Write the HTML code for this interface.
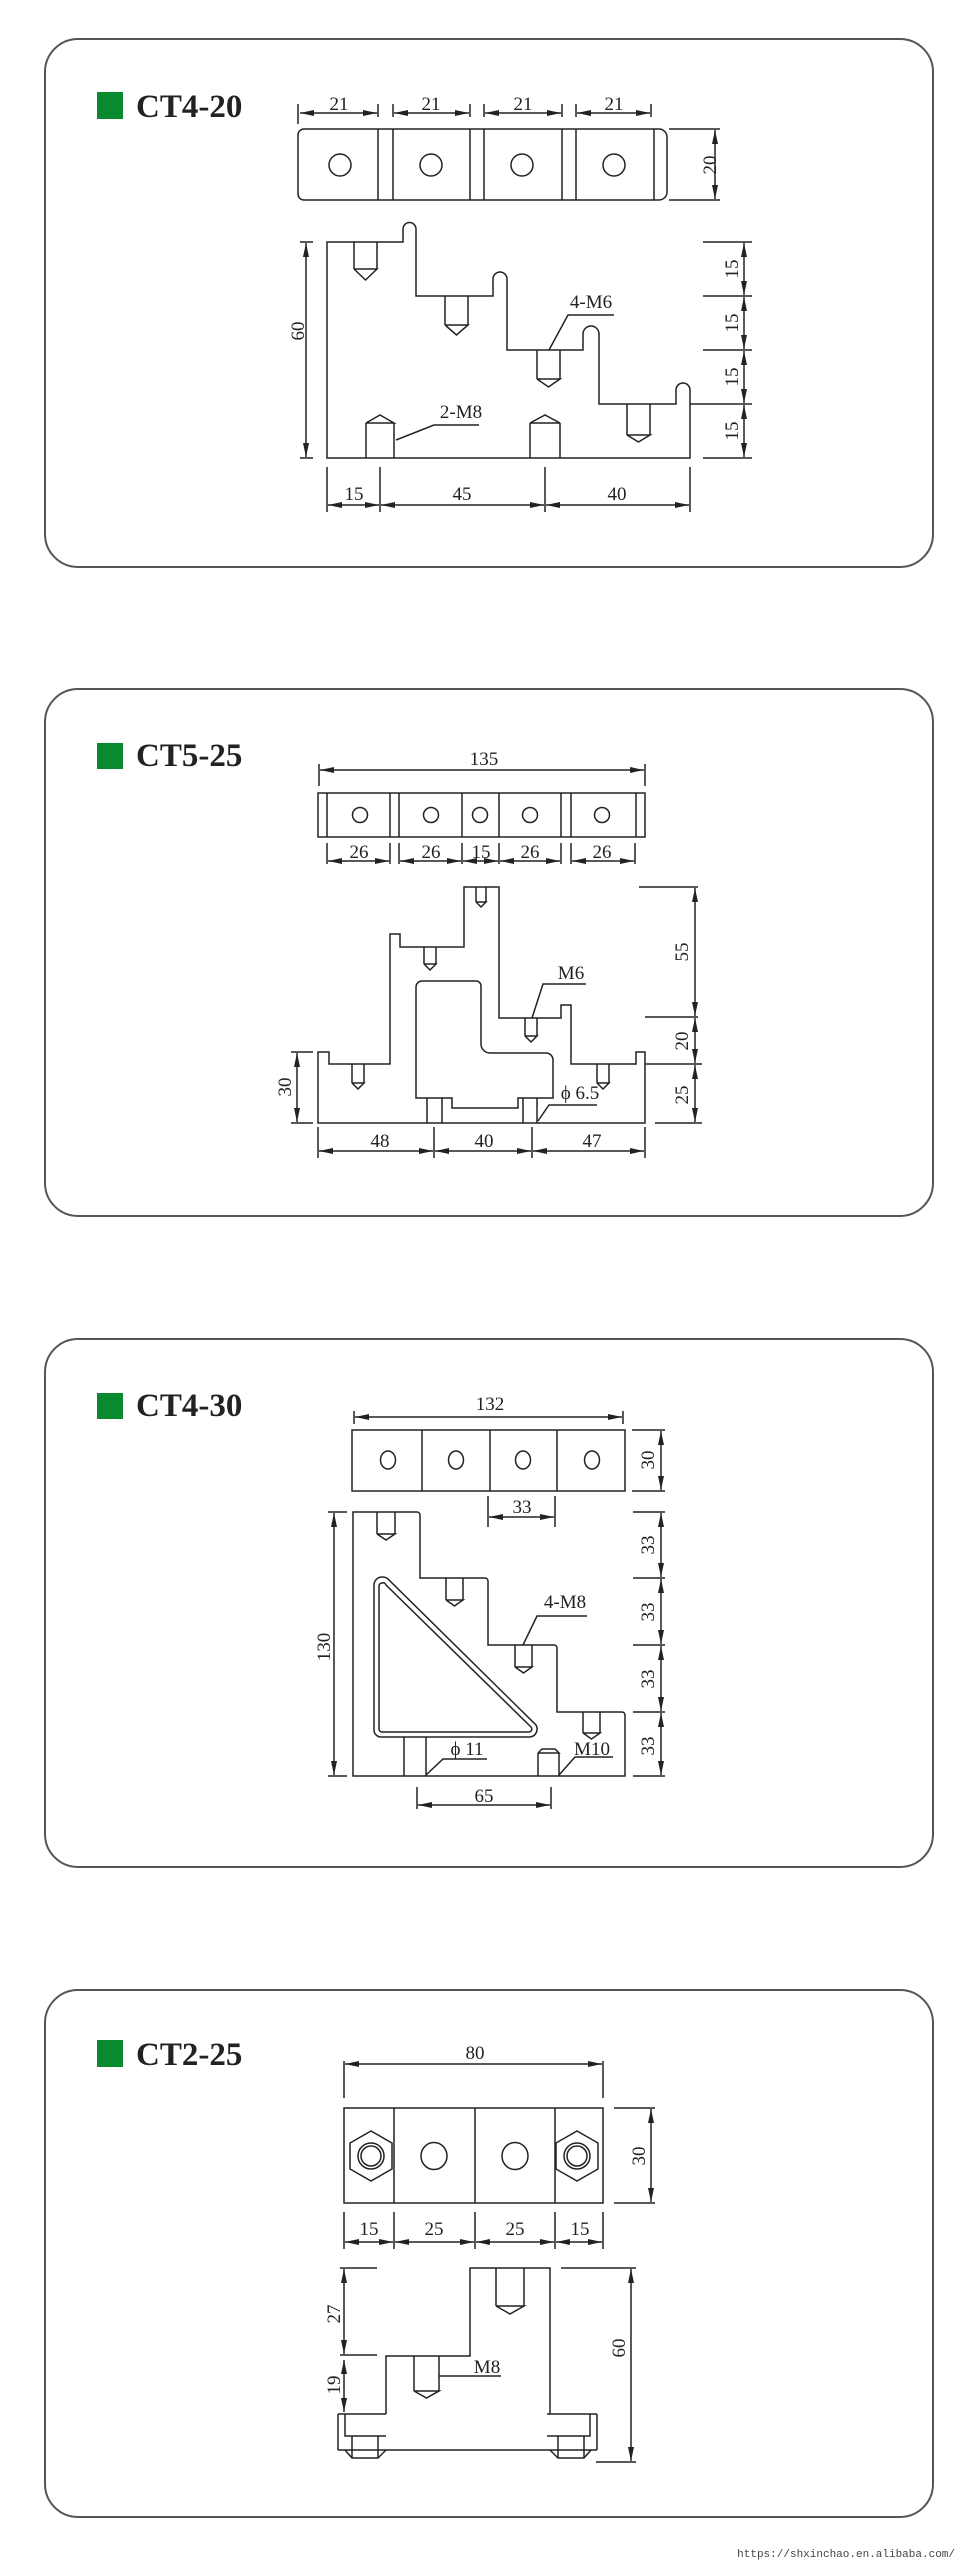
<!DOCTYPE html>
<html><head><meta charset="utf-8"><style>
html,body{margin:0;padding:0;background:#fff;}
svg{display:block;}
.d{font-family:"Liberation Serif",serif;font-size:19px;fill:#222;text-anchor:middle;}
.t{font-family:"Liberation Serif",serif;font-size:33px;font-weight:bold;fill:#222;}
.u{font-family:"Liberation Mono",monospace;font-size:11px;fill:#444;text-anchor:end;}
</style></head><body>
<svg width="968" height="2560" viewBox="0 0 968 2560" xmlns="http://www.w3.org/2000/svg">
<defs>
<marker id="a" viewBox="0 0 14 6" refX="14" refY="3" markerWidth="14" markerHeight="6" markerUnits="userSpaceOnUse" orient="auto-start-reverse"><path d="M0,0 L14,3 L0,6 z" fill="#222"/></marker>
</defs>
<g fill="none" stroke="#555" stroke-width="2">
<rect x="45" y="39" width="888" height="528" rx="33"/>
<rect x="45" y="689" width="888" height="527" rx="33"/>
<rect x="45" y="1339" width="888" height="528" rx="33"/>
<rect x="45" y="1990" width="888" height="527" rx="33"/>
</g>
<g fill="#0a8a2e">
<rect x="97" y="92" width="26" height="27"/>
<rect x="97" y="743" width="26" height="26"/>
<rect x="97" y="1393" width="26" height="26"/>
<rect x="97" y="2040" width="26" height="27"/>
</g>
<text class="t" x="136" y="117">CT4-20</text>
<text class="t" x="136" y="766">CT5-25</text>
<text class="t" x="136" y="1416">CT4-30</text>
<text class="t" x="136" y="2065">CT2-25</text>

<g fill="none" stroke="#222" stroke-width="1.5">
<!-- ===== Panel 1 ===== -->
<path d="M304,129 H659 A8,8 0 0 1 667,137 V192 A8,8 0 0 1 659,200 H304 A6,6 0 0 1 298,194 V135 A6,6 0 0 1 304,129 Z"/>
<path d="M378,129V200M393,129V200M470,129V200M484,129V200M562,129V200M576,129V200M654,129V200"/>
<circle cx="340" cy="165" r="11"/><circle cx="431" cy="165" r="11"/><circle cx="522" cy="165" r="11"/><circle cx="614" cy="165" r="11"/>
<path d="M298,104V124M378,104V117M393,104V117M470,104V117M484,104V117M562,104V117M576,104V117M651,104V117"/>
<line x1="300" y1="113" x2="377" y2="113" marker-start="url(#a)" marker-end="url(#a)"/>
<line x1="394" y1="113" x2="469" y2="113" marker-start="url(#a)" marker-end="url(#a)"/>
<line x1="485" y1="113" x2="561" y2="113" marker-start="url(#a)" marker-end="url(#a)"/>
<line x1="577" y1="113" x2="650" y2="113" marker-start="url(#a)" marker-end="url(#a)"/>
<path d="M669,129H720M669,200H720"/>
<line x1="715" y1="130" x2="715" y2="199" marker-start="url(#a)" marker-end="url(#a)"/>
<path d="M327,458 V242 H403 V229 A6.5,6.5 0 0 1 416,229 V296 H493 V279 A7,7 0 0 1 507,279 V350 H583 V334 A8,8 0 0 1 599,334 V404 H676 V390 A7,7 0 0 1 690,390 V458 Z"/>
<path d="M690,404H752M703,242H752M703,296H752M703,350H752M703,458H752"/>
<path d="M354,242V269M377,242V269M354,269H377L365.5,280L354,269"/>
<path d="M445,296V325M468,296V325M445,325H468L456.5,335L445,325"/>
<path d="M537,350V379M560,350V379M537,379H560L548.5,387L537,379"/>
<path d="M627,404V435M650,404V435M627,435H650L638.5,442L627,435"/>
<path d="M366,458V423M394,458V423M366,423H394L380,415L366,423"/>
<path d="M530,458V423M560,458V423M530,423H560L545,415L530,423"/>
<path d="M549,350L568,315H614M396,440L434,425H479"/>
<path d="M300,242H313M300,458H313"/>
<line x1="306" y1="243" x2="306" y2="457" marker-start="url(#a)" marker-end="url(#a)"/>
<line x1="744" y1="243" x2="744" y2="295" marker-start="url(#a)" marker-end="url(#a)"/>
<line x1="744" y1="297" x2="744" y2="349" marker-start="url(#a)" marker-end="url(#a)"/>
<line x1="744" y1="351" x2="744" y2="403" marker-start="url(#a)" marker-end="url(#a)"/>
<line x1="744" y1="405" x2="744" y2="457" marker-start="url(#a)" marker-end="url(#a)"/>
<path d="M327,467V512M380,467V512M545,467V512M690,467V512"/>
<line x1="328" y1="505" x2="379" y2="505" marker-start="url(#a)" marker-end="url(#a)"/>
<line x1="381" y1="505" x2="544" y2="505" marker-start="url(#a)" marker-end="url(#a)"/>
<line x1="546" y1="505" x2="689" y2="505" marker-start="url(#a)" marker-end="url(#a)"/>

<!-- ===== Panel 2 ===== -->
<rect x="318" y="793" width="327" height="44"/>
<path d="M327,793V837M390,793V837M399,793V837M462,793V837M499,793V837M561,793V837M571,793V837M636,793V837"/>
<circle cx="360" cy="815" r="7.5"/><circle cx="431" cy="815" r="7.5"/><circle cx="480" cy="815" r="7.5"/><circle cx="530" cy="815" r="7.5"/><circle cx="602" cy="815" r="7.5"/>
<path d="M319,764V786M645,764V786"/>
<line x1="320" y1="770" x2="644" y2="770" marker-start="url(#a)" marker-end="url(#a)"/>
<path d="M327,843V864M390,843V864M399,843V864M462,843V864M499,843V864M561,843V864M571,843V864M635,843V864"/>
<line x1="328" y1="861" x2="389" y2="861" marker-start="url(#a)" marker-end="url(#a)"/>
<line x1="400" y1="861" x2="461" y2="861" marker-start="url(#a)" marker-end="url(#a)"/>
<line x1="463" y1="861" x2="498" y2="861" marker-start="url(#a)" marker-end="url(#a)"/>
<line x1="500" y1="861" x2="560" y2="861" marker-start="url(#a)" marker-end="url(#a)"/>
<line x1="572" y1="861" x2="634" y2="861" marker-start="url(#a)" marker-end="url(#a)"/>
<path d="M318,1123 V1052 H329 V1064 H390 V934 H400 V947 H464 V887 H499 V1018 H561 V1005 H571 V1064 H636 V1052 H645 V1123 Z"/>
<path d="M422,981 H476 A5,5 0 0 1 481,986 V1044 A9,9 0 0 0 490,1053 H546 A7,7 0 0 1 553,1060 V1098 H518 V1108 H452 V1098 H416 V987 A6,6 0 0 1 422,981 Z"/>
<path d="M427,1098V1123M442,1098V1123M523,1098V1123M537,1098V1123"/>
<path d="M476,887V902M486,887V902M476,902H486L481,907L476,902"/>
<path d="M424,947V964M436,947V964M424,964H436L430,970L424,964"/>
<path d="M525,1018V1036M537,1018V1036M525,1036H537L531,1042L525,1036"/>
<path d="M352,1064V1083M364,1064V1083M352,1083H364L358,1089L352,1083"/>
<path d="M597,1064V1083M609,1064V1083M597,1083H609L603,1089L597,1083"/>
<path d="M532,1018L543,984H586M538,1121L549,1105H597"/>
<path d="M639,887H698M645,1017H698M645,1064H702M655,1123H702"/>
<line x1="695" y1="888" x2="695" y2="1016" marker-start="url(#a)" marker-end="url(#a)"/>
<line x1="695" y1="1018" x2="695" y2="1063" marker-start="url(#a)" marker-end="url(#a)"/>
<line x1="695" y1="1065" x2="695" y2="1122" marker-start="url(#a)" marker-end="url(#a)"/>
<path d="M291,1052H313M291,1123H313"/>
<line x1="297" y1="1053" x2="297" y2="1122" marker-start="url(#a)" marker-end="url(#a)"/>
<path d="M318,1127V1158M434,1127V1158M532,1127V1158M645,1127V1158"/>
<line x1="319" y1="1151" x2="433" y2="1151" marker-start="url(#a)" marker-end="url(#a)"/>
<line x1="435" y1="1151" x2="531" y2="1151" marker-start="url(#a)" marker-end="url(#a)"/>
<line x1="533" y1="1151" x2="644" y2="1151" marker-start="url(#a)" marker-end="url(#a)"/>

<!-- ===== Panel 3 ===== -->
<rect x="352" y="1430" width="273" height="61"/>
<path d="M422,1430V1491M490,1430V1491M557,1430V1491"/>
<ellipse cx="388" cy="1460" rx="7.5" ry="9"/><ellipse cx="456" cy="1460" rx="7.5" ry="9"/><ellipse cx="523" cy="1460" rx="7.5" ry="9"/><ellipse cx="592" cy="1460" rx="7.5" ry="9"/>
<path d="M354,1411V1424M623,1411V1424"/>
<line x1="355" y1="1417" x2="622" y2="1417" marker-start="url(#a)" marker-end="url(#a)"/>
<path d="M632,1430H665M632,1491H665"/>
<line x1="661" y1="1431" x2="661" y2="1490" marker-start="url(#a)" marker-end="url(#a)"/>
<path d="M488,1496V1527M555,1496V1527"/>
<line x1="489" y1="1517" x2="554" y2="1517" marker-start="url(#a)" marker-end="url(#a)"/>
<path d="M353,1776 V1512 H417 A3,3 0 0 1 420,1515 V1578 H485 A3,3 0 0 1 488,1581 V1645 H554 A3,3 0 0 1 557,1648 V1712 H622 A3,3 0 0 1 625,1715 V1776 Z"/>
<path d="M382,1577 A8,8 0 0 0 374,1585 V1730 A7,7 0 0 0 381,1737 H530 A8,8 0 0 0 536,1725 L389,1580 A8,8 0 0 0 382,1577 Z"/>
<path d="M382,1583 A3,3 0 0 0 379,1586 V1729 A3,3 0 0 0 382,1732 H529 A3,3 0 0 0 531,1727 L386,1585 A3,3 0 0 0 382,1583 Z"/>
<path d="M377,1512V1534M395,1512V1534M377,1534H395L386,1540L377,1534"/>
<path d="M446,1578V1600M463,1578V1600M446,1600H463L454.5,1606L446,1600"/>
<path d="M515,1645V1667M532,1645V1667M515,1667H532L523.5,1673L515,1667"/>
<path d="M583,1712V1733M600,1712V1733M583,1733H600L591.5,1739L583,1733"/>
<path d="M404,1737V1776M426,1737V1776"/>
<path d="M538,1776V1753M559,1776V1753M538,1753L542,1749H555L559,1753H538"/>
<path d="M523,1645L537,1616H587M426,1775L443,1759H487M559,1775L575,1757H613"/>
<path d="M328,1512H347M328,1776H347"/>
<line x1="334" y1="1513" x2="334" y2="1775" marker-start="url(#a)" marker-end="url(#a)"/>
<path d="M633,1512H665M633,1578H665M633,1645H665M633,1712H665M633,1776H665"/>
<line x1="661" y1="1513" x2="661" y2="1577" marker-start="url(#a)" marker-end="url(#a)"/>
<line x1="661" y1="1579" x2="661" y2="1644" marker-start="url(#a)" marker-end="url(#a)"/>
<line x1="661" y1="1646" x2="661" y2="1711" marker-start="url(#a)" marker-end="url(#a)"/>
<line x1="661" y1="1713" x2="661" y2="1775" marker-start="url(#a)" marker-end="url(#a)"/>
<path d="M417,1787V1809M551,1787V1809"/>
<line x1="418" y1="1805" x2="550" y2="1805" marker-start="url(#a)" marker-end="url(#a)"/>

<!-- ===== Panel 4 ===== -->
<rect x="344" y="2108" width="259" height="95"/>
<path d="M394,2108V2203M475,2108V2203M555,2108V2203"/>
<ellipse cx="434" cy="2156" rx="13" ry="13.5"/><ellipse cx="515" cy="2156" rx="13" ry="13.5"/>
<path d="M371,2131L392,2143V2169L371,2181L350,2169V2143Z"/>
<circle cx="371" cy="2156" r="13"/><circle cx="371" cy="2156" r="10"/>
<path d="M577,2131L598,2143V2169L577,2181L556,2169V2143Z"/>
<circle cx="577" cy="2156" r="13"/><circle cx="577" cy="2156" r="10"/>
<path d="M344,2061V2098M603,2061V2098"/>
<line x1="345" y1="2064" x2="602" y2="2064" marker-start="url(#a)" marker-end="url(#a)"/>
<path d="M614,2108H655M614,2203H655"/>
<line x1="651" y1="2109" x2="651" y2="2202" marker-start="url(#a)" marker-end="url(#a)"/>
<path d="M344,2212V2249M394,2212V2249M475,2212V2249M555,2212V2249M603,2212V2249"/>
<line x1="345" y1="2242" x2="393" y2="2242" marker-start="url(#a)" marker-end="url(#a)"/>
<line x1="395" y1="2242" x2="474" y2="2242" marker-start="url(#a)" marker-end="url(#a)"/>
<line x1="476" y1="2242" x2="554" y2="2242" marker-start="url(#a)" marker-end="url(#a)"/>
<line x1="556" y1="2242" x2="602" y2="2242" marker-start="url(#a)" marker-end="url(#a)"/>
<path d="M386,2414 V2356 H470 V2268 H550 V2414"/>
<path d="M338,2414H386M547,2414H597M338,2414V2450M597,2414V2450M338,2450H597"/>
<path d="M345,2414V2436H386M547,2436H590V2414"/>
<path d="M352,2436V2458M378,2436V2458M345,2450L352,2458H378L386,2450"/>
<path d="M558,2436V2458M584,2436V2458M550,2450L558,2458H584L591,2450"/>
<path d="M496,2268V2306M524,2268V2306M496,2306H524L510,2314L496,2306"/>
<path d="M414,2356V2391M439,2356V2391M414,2391H439L426.5,2398L414,2391"/>
<path d="M439,2376H501"/>
<path d="M340,2268H377M340,2355H377"/>
<line x1="344" y1="2269" x2="344" y2="2354" marker-start="url(#a)" marker-end="url(#a)"/>
<line x1="344" y1="2360" x2="344" y2="2412" marker-start="url(#a)" marker-end="url(#a)"/>
<path d="M561,2268H636M596,2462H636"/>
<line x1="631" y1="2269" x2="631" y2="2461" marker-start="url(#a)" marker-end="url(#a)"/>
</g>

<g class="d">
<text x="339" y="110">21</text><text x="431" y="110">21</text><text x="523" y="110">21</text><text x="614" y="110">21</text>
<text transform="translate(710,165) rotate(-90)" y="6">20</text>
<text transform="translate(298,331) rotate(-90)" y="6">60</text>
<text transform="translate(732,269) rotate(-90)" y="6">15</text>
<text transform="translate(732,323) rotate(-90)" y="6">15</text>
<text transform="translate(732,377) rotate(-90)" y="6">15</text>
<text transform="translate(732,431) rotate(-90)" y="6">15</text>
<text x="591" y="308">4-M6</text><text x="461" y="418">2-M8</text>
<text x="354" y="500">15</text><text x="462" y="500">45</text><text x="617" y="500">40</text>

<text x="484" y="765">135</text>
<text x="359" y="858">26</text><text x="431" y="858">26</text><text x="481" y="858">15</text><text x="530" y="858">26</text><text x="602" y="858">26</text>
<text x="571" y="979">M6</text><text x="580" y="1099">ϕ 6.5</text>
<text transform="translate(682,952) rotate(-90)" y="6">55</text>
<text transform="translate(682,1041) rotate(-90)" y="6">20</text>
<text transform="translate(682,1095) rotate(-90)" y="6">25</text>
<text transform="translate(285,1087) rotate(-90)" y="6">30</text>
<text x="380" y="1147">48</text><text x="484" y="1147">40</text><text x="592" y="1147">47</text>

<text x="490" y="1410">132</text>
<text transform="translate(648,1460) rotate(-90)" y="6">30</text>
<text x="522" y="1513">33</text>
<text transform="translate(324,1647) rotate(-90)" y="6">130</text>
<text transform="translate(648,1545) rotate(-90)" y="6">33</text>
<text transform="translate(648,1612) rotate(-90)" y="6">33</text>
<text transform="translate(648,1679) rotate(-90)" y="6">33</text>
<text transform="translate(648,1746) rotate(-90)" y="6">33</text>
<text x="565" y="1608">4-M8</text><text x="467" y="1755">ϕ 11</text><text x="592" y="1755">M10</text>
<text x="484" y="1802">65</text>

<text x="475" y="2059">80</text>
<text transform="translate(639,2156) rotate(-90)" y="6">30</text>
<text x="369" y="2235">15</text><text x="434" y="2235">25</text><text x="515" y="2235">25</text><text x="580" y="2235">15</text>
<text x="487" y="2373">M8</text>
<text transform="translate(334,2314) rotate(-90)" y="6">27</text>
<text transform="translate(334,2385) rotate(-90)" y="6">19</text>
<text transform="translate(619,2348) rotate(-90)" y="6">60</text>
</g>
<text class="u" x="955" y="2557">https://shxinchao.en.alibaba.com/</text>
</svg>
</body></html>
